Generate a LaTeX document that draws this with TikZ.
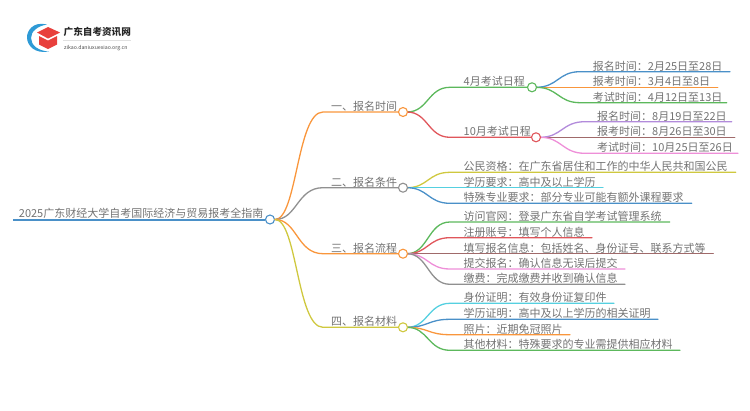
\documentclass[tikz,border=0pt]{standalone}
\usepackage{fontspec}
\setmainfont{Noto Sans CJK SC}
\usepackage{xcolor}
\definecolor{tintblue}{HTML}{4A90C8}
\definecolor{tintorange}{HTML}{F9963C}
\definecolor{tintgray}{HTML}{909090}
\definecolor{tintyellow}{HTML}{CFC83F}
\definecolor{tintgreen}{HTML}{5CB85C}
\definecolor{tintred}{HTML}{E0565B}
\definecolor{tintpurple}{HTML}{B28BDB}
\definecolor{tintbrown}{HTML}{A06A6A}
\definecolor{tintpink}{HTML}{EE8FD8}
\definecolor{tintcyan}{HTML}{55D0E0}
\definecolor{logoblue}{HTML}{2E9AD6}
\definecolor{logored}{HTML}{E8403C}
\tikzset{
  txt/.style={anchor=base west,inner sep=0pt,yshift=-1.5pt,text=black!55,font=\fontsize{11}{11}\selectfont},
  dot/.style={circle,draw=#1,fill=white,line width=1.1pt,minimum size=9pt,inner sep=0pt},
  wire/.style={draw=#1,line width=1.3pt,line cap=round},
}
\begin{document}
\begin{tikzpicture}[x=1pt,y=-1pt]
    \useasboundingbox (0,0) rectangle (750,410);
    % logo
    \fill[logoblue] (47,24.5) .. controls (33,21) and (26.5,31) .. (27,38) .. controls (27.5,46) and (35,54) .. (49,51.5) .. controls (38,51) and (31,45) .. (31,38) .. controls (31,31) and (38,26) .. (47,24.5) -- cycle;
    \fill[logored] (37,32.5) -- (48,27) -- (60,32.5) -- (48,38.5) -- cycle;
    \fill[logored] (39,36) -- (48,40.5) -- (57,36) -- (57,44.5) -- (48,49) -- (39,44.5) -- cycle;
    \node[anchor=base west,inner sep=0pt,text=black!85,font=\bfseries\fontsize{9.6}{10}\selectfont] (logotitle) at (63.5,35.5) {广东自考资讯网};
    \node[anchor=base west,inner sep=0pt,text=black!70,font=\fontsize{5.2}{6}\selectfont] (logosub) at (64,49) {zikao.daniuxuexiao.org.cn};
    \coordinate (logoa) at (63,40.3);
    \coordinate (logob) at (131,40.3);
    \draw[black!12,line width=.5pt] (logoa)--(logob);

    % root
    \coordinate (rootstart) at (13,219.5);
    \node[txt] (roottext) at (18.7,216) {2025广东财经大学自考国际经济与贸易报考全指南};
    \node[dot=tintblue] (root) at (270,219.5) {};

    % first level
    \coordinate (one) at (323,112);
    \coordinate (two) at (323,187.7);
    \coordinate (three) at (323,253.7);
    \coordinate (four) at (323,327.3);
    \draw[wire=tintorange] (root.east) .. controls (297,219.5) and (297,112) .. (one)--(399,112);
    \draw[wire=tintgray] (root.east) .. controls (297,219.5) and (297,187.7) .. (two)--(399,187.7);
    \draw[wire=tintorange] (root.east) .. controls (297,219.5) and (297,253.7) .. (three)--(399,253.7);
    \draw[wire=tintyellow] (root.east) .. controls (297,219.5) and (297,327.3) .. (four)--(399,327.3);
    \draw[tintblue,line width=2pt] (rootstart)--(root.west);
    \node[txt] (onetext) at (331,109) {一、报名时间};
    \node[txt] (twotext) at (331,184.7) {二、报名条件};
    \node[txt] (threetext) at (331,250.7) {三、报名流程};
    \node[txt] (fourtext) at (331,324.3) {四、报名材料};

    % one: exams
    \coordinate (apr) at (450,87.3);
    \coordinate (oct) at (450,137.3);
    \draw[wire=tintgreen] (407,112) .. controls (428,112) and (428,87.3) .. (apr)--(528,87.3);
    \draw[wire=tintred] (407,112) .. controls (428,112) and (428,137.3) .. (oct)--(532,137.3);
    \node[dot=tintorange] (onedot) at (403,112) {};
    \node[txt] (aprtext) at (463.5,84.3) {4月考试日程};
    \node[txt] (octtext) at (463.5,134.3) {10月考试日程};

    \coordinate (apra) at (580,71.7);
    \coordinate (aprb) at (580,87.3);
    \coordinate (aprc) at (580,102.7);
    \draw[wire=tintblue] (536,87.3) .. controls (558,87.3) and (558,71.7) .. (apra)--(730,71.7);
    \draw[wire=tintorange] (536,87.3)--(aprb)--(717.7,87.3);
    \draw[wire=tintgreen] (536,87.3) .. controls (558,87.3) and (558,102.7) .. (aprc)--(726.7,102.7);
    \node[dot=tintgreen] (aprdot) at (532,87.3) {};
    \node[txt] (apratext) at (592.7,68.7) {报名时间：2月25日至28日};
    \node[txt] (aprbtext) at (592.7,84.3) {报考时间：3月4日至8日};
    \node[txt] (aprctext) at (592.7,99.7) {考试时间：4月12日至13日};

    \coordinate (octa) at (585,121.7);
    \coordinate (octb) at (585,137.3);
    \coordinate (octc) at (585,153.3);
    \draw[wire=tintpurple] (540,137.3) .. controls (562,137.3) and (562,121.7) .. (octa)--(731.7,121.7);
    \draw[wire=tintbrown] (540,137.3)--(octb)--(734.7,137.3);
    \draw[wire=tintpink] (540,137.3) .. controls (562,137.3) and (562,153.3) .. (octc)--(738,153.3);
    \node[dot=tintred] (octdot) at (536,137.3) {};
    \node[txt] (octatext) at (597,118.7) {报名时间：8月19日至22日};
    \node[txt] (octbtext) at (597,134.3) {报考时间：8月26日至30日};
    \node[txt] (octctext) at (597,150.3) {考试时间：10月25日至26日};

    % two: conditions
    \coordinate (conda) at (450,172.3);
    \coordinate (condb) at (450,187.7);
    \coordinate (condc) at (450,203.3);
    \draw[wire=tintyellow] (407,187.7) .. controls (428,187.7) and (428,172.3) .. (conda)--(735.7,172.3);
    \draw[wire=tintcyan] (407,187.7)--(condb)--(603,187.7);
    \draw[wire=tintblue] (407,187.7) .. controls (428,187.7) and (428,203.3) .. (condc)--(691.7,203.3);
    \node[dot=tintgray] (twodot) at (403,187.7) {};
    \node[txt] (condatext) at (463.5,169.3) {公民资格：在广东省居住和工作的中华人民共和国公民};
    \node[txt] (condbtext) at (463.5,184.7) {学历要求：高中及以上学历};
    \node[txt] (condctext) at (463.5,200.3) {特殊专业要求：部分专业可能有额外课程要求};

    % three: steps
    \coordinate (stepa) at (450,222);
    \coordinate (stepb) at (450,237.7);
    \coordinate (stepc) at (450,253.7);
    \coordinate (stepd) at (450,269);
    \coordinate (stepe) at (450,284.3);
    \draw[wire=tintgreen] (407,253.7) .. controls (428,253.7) and (428,222) .. (stepa)--(669.7,222);
    \draw[wire=tintred] (407,253.7) .. controls (428,253.7) and (428,237.7) .. (stepb)--(592,237.7);
    \draw[wire=tintbrown] (407,253.7)--(stepc)--(713.3,253.7);
    \draw[wire=tintpink] (407,253.7) .. controls (428,253.7) and (428,269) .. (stepd)--(625,269);
    \draw[wire=tintgray] (407,253.7) .. controls (428,253.7) and (428,284.3) .. (stepe)--(625,284.3);
    \node[dot=tintorange] (threedot) at (403,253.7) {};
    \node[txt] (stepatext) at (463.5,219) {访问官网：登录广东省自学考试管理系统};
    \node[txt] (stepbtext) at (463.5,234.7) {注册账号：填写个人信息};
    \node[txt] (stepctext) at (463.5,250.7) {填写报名信息：包括姓名、身份证号、联系方式等};
    \node[txt] (stepdtext) at (463.5,266) {提交报名：确认信息无误后提交};
    \node[txt] (stepetext) at (463.5,281.3) {缴费：完成缴费并收到确认信息};

    % four: documents
    \coordinate (doca) at (450,303.3);
    \coordinate (docb) at (450,319.3);
    \coordinate (docc) at (450,334.7);
    \coordinate (docd) at (450,350.3);
    \draw[wire=tintcyan] (407,327.3) .. controls (428,327.3) and (428,303.3) .. (doca)--(614,303.3);
    \draw[wire=tintblue] (407,327.3) .. controls (428,327.3) and (428,319.3) .. (docb)--(658,319.3);
    \draw[wire=tintorange] (407,327.3) .. controls (428,327.3) and (428,334.7) .. (docc)--(570,334.7);
    \draw[wire=tintgreen] (407,327.3) .. controls (428,327.3) and (428,350.3) .. (docd)--(680,350.3);
    \node[dot=tintyellow] (fourdot) at (403,327.3) {};
    \node[txt] (docatext) at (463.5,300.3) {身份证明：有效身份证复印件};
    \node[txt] (docbtext) at (463.5,316.3) {学历证明：高中及以上学历的相关证明};
    \node[txt] (docctext) at (463.5,331.7) {照片：近期免冠照片};
    \node[txt] (docdtext) at (463.5,347.3) {其他材料：特殊要求的专业需提供相应材料};
\end{tikzpicture}
\end{document}
